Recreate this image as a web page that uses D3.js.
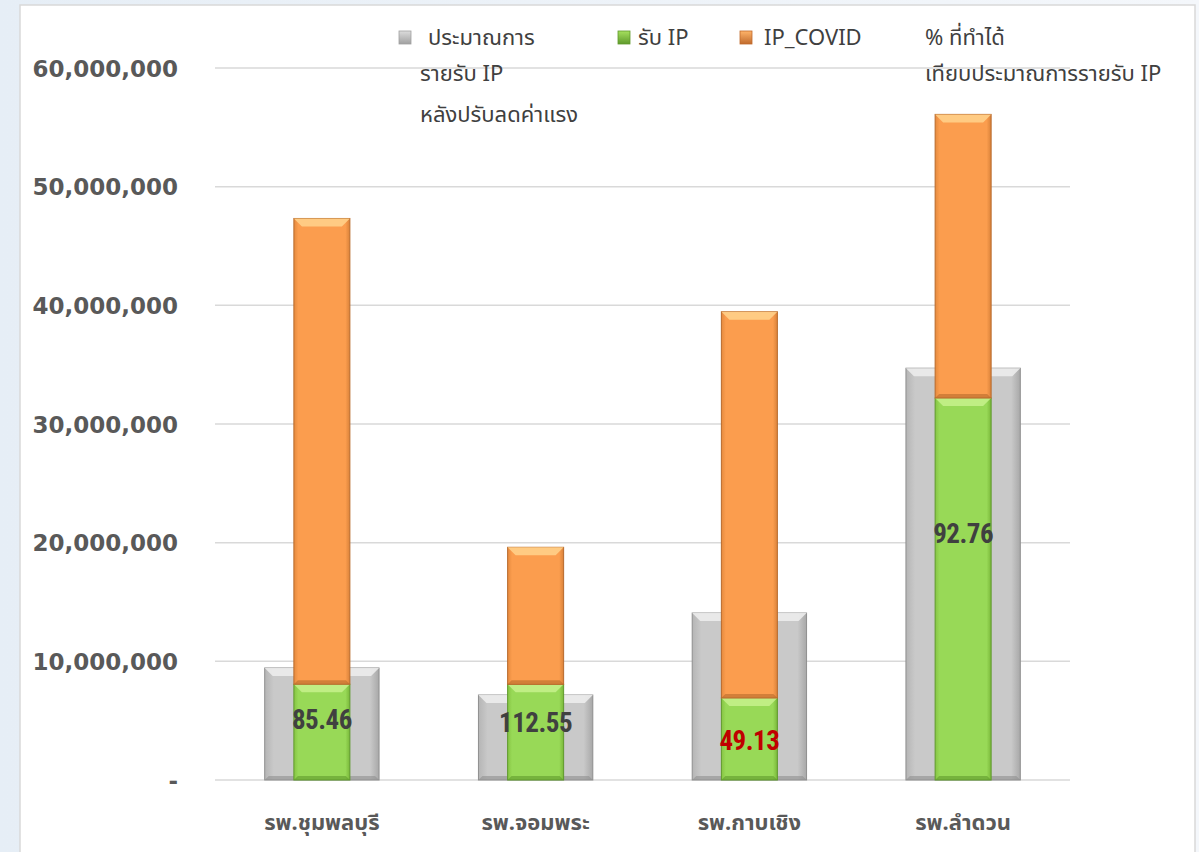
<!DOCTYPE html>
<html><head><meta charset="utf-8">
<script src="https://cdn.jsdelivr.net/npm/d3@7"></script>
<style>
html,body{margin:0;padding:0;background:#fff;}
svg{display:block;}
</style></head>
<body>
<svg id="c" width="1199" height="852"></svg>
<script>
const categories = ["รพ.ชุมพลบุรี","รพ.จอมพระ","รพ.กาบเชิง","รพ.ลำดวน"];
const estimateIP = [9440000, 7160000, 14070000, 34700000];   // ประมาณการรายรับ IP หลังปรับลดค่าแรง
const receivedIP = [8070000, 8060000, 6910000, 32190000];    // รับ IP
const covidIP    = [39250000, 11550000, 32550000, 23900000]; // IP_COVID
const pctAchieved = [85.46, 112.55, 49.13, 92.76];            // % ที่ทำได้
const pctLabelLevel = [5100000, 4800000, 3300000, 20800000];  // hidden % series level (label anchor)
const yTicks = [0,10000000,20000000,30000000,40000000,50000000,60000000];

const svg = d3.select("#c");
const defs = svg.append("defs");

const bg = defs.append("linearGradient").attr("id","bg").attr("x1",0).attr("x2",1).attr("y1",0).attr("y2",0);
bg.append("stop").attr("offset",0).attr("stop-color","#e6eef6");
bg.append("stop").attr("offset",1).attr("stop-color","#f4f7fb");
svg.append("rect").attr("width",1199).attr("height",852).attr("fill","url(#bg)");
svg.append("rect").attr("x",20).attr("y",5).attr("width",1175).attr("height",852)
  .attr("fill","#fff").attr("stroke","#d9d9d9").attr("stroke-width",1.5);

function hGrad(id, edgeL, mid, edgeR){
  const g = defs.append("linearGradient").attr("id",id).attr("x1",0).attr("x2",1).attr("y1",0).attr("y2",0);
  g.append("stop").attr("offset",0).attr("stop-color",edgeL);
  g.append("stop").attr("offset",0.08).attr("stop-color",mid);
  g.append("stop").attr("offset",0.92).attr("stop-color",mid);
  g.append("stop").attr("offset",1).attr("stop-color",edgeR);
}
hGrad("gGray","#b5b5b5","#c9c9c9","#a8a8a8");
hGrad("gGreen","#86c443","#98d957","#7ab83a");
hGrad("gOrange","#e58a3e","#fb9d4e","#d9823a");

const x = d3.scaleBand().domain(categories).range([215,1070]).padding(0);
const y = d3.scaleLinear().domain([0,60000000]).range([780,68]);

svg.append("g").selectAll("line").data(yTicks).join("line")
  .attr("x1",215).attr("x2",1070)
  .attr("y1",d=>y(d)).attr("y2",d=>y(d))
  .attr("stroke","#d9d9d9").attr("stroke-width",1.5);

const fmt = d3.format(",");
const yAxis = d3.axisLeft(y).tickValues(yTicks).tickSize(0).tickPadding(0)
  .tickFormat(d=> d===0 ? "-" : fmt(d));
const ya = svg.append("g").attr("transform","translate(178,0)").call(yAxis);
ya.select(".domain").remove();
ya.selectAll("text").attr("font-family","'DejaVu Sans', sans-serif")
  .attr("font-weight","bold").attr("font-size",23).attr("fill","#595959").attr("dy","0.35em");

const gw = x.bandwidth()*0.535, iw = x.bandwidth()*0.262;
const bevel = 8;

function bar(g, cx, w, y0, y1, fill, light, dark){
  const top = Math.min(y0,y1), h = Math.abs(y1-y0);
  const left = cx - w/2;
  g.append("rect").attr("x",left).attr("y",top).attr("width",w).attr("height",h)
    .attr("fill",fill).attr("stroke",dark).attr("stroke-width",1);
  const b = Math.min(bevel, h/2);
  g.append("path").attr("d",`M${left},${top}L${left+w},${top}L${left+w-b},${top+b}L${left+b},${top+b}Z`)
    .attr("fill",light).attr("opacity",0.9);
  g.append("path").attr("d",`M${left},${top+h}L${left+w},${top+h}L${left+w-b/2},${top+h-b/2}L${left+b/2},${top+h-b/2}Z`)
    .attr("fill",dark).attr("opacity",0.6);
}

const bars = svg.append("g");
categories.forEach((c,i)=>{
  const cx = x(c)+x.bandwidth()/2;
  bar(bars, cx, gw, y(0), y(estimateIP[i]), "url(#gGray)", "#ececec", "#8f8f8f");
});
categories.forEach((c,i)=>{
  const cx = x(c)+x.bandwidth()/2;
  bar(bars, cx, iw, y(0), y(receivedIP[i]), "url(#gGreen)", "#c4f08a", "#5f9a2c");
  bar(bars, cx, iw, y(receivedIP[i]), y(receivedIP[i]+covidIP[i]), "url(#gOrange)", "#ffd08a", "#b86a2c");
});

svg.append("g").selectAll("text").data(categories).join("text")
  .attr("x",d=>x(d)+x.bandwidth()/2)
  .attr("y",(d,i)=>y(pctLabelLevel[i]))
  .attr("dy","0.35em")
  .attr("text-anchor","middle")
  .attr("font-family","'Liberation Sans Narrow', 'Roboto Condensed', Roboto, sans-serif")
  .attr("font-weight","bold").attr("font-size",27).attr("letter-spacing","-0.5")
  .attr("fill",(d,i)=>pctAchieved[i] < 50 ? "#c00000" : "#404040")
  .text((d,i)=>pctAchieved[i].toFixed(2));

svg.append("g").selectAll("text").data(categories).join("text")
  .attr("x",d=>x(d)+x.bandwidth()/2).attr("y",822).attr("dy","0.35em")
  .attr("text-anchor","middle")
  .attr("font-family","'Noto Sans', 'Noto Sans Thai', sans-serif")
  .attr("font-weight","bold").attr("font-size",22).attr("fill","#595959")
  .text(d=>d);

const legend = [
  {lines:["ประมาณการ","รายรับ IP","หลังปรับลดค่าแรง"], x:405, color:["#dcdcdc","#a0a0a0"], tx:[428,420,420]},
  {lines:["รับ IP"], x:624, color:["#a6e05e","#5f9a2c"], tx:[638]},
  {lines:["IP_COVID"], x:746, color:["#ffb46a","#c06a2c"], tx:[764]},
  {lines:["% ที่ทำได้","เทียบประมาณการรายรับ IP"], x:null, color:null, tx:[925,925]}
];
const lg = svg.append("g");
const lineY = [37,73,114];
legend.forEach((L,k)=>{
  if(L.x!==null){
    const gid = "lg"+k;
    const g = defs.append("linearGradient").attr("id",gid).attr("x1",0).attr("x2",0).attr("y1",0).attr("y2",1);
    g.append("stop").attr("offset",0).attr("stop-color",L.color[0]);
    g.append("stop").attr("offset",1).attr("stop-color",L.color[1]);
    lg.append("rect").attr("x",L.x-6).attr("y",lineY[0]-6).attr("width",12).attr("height",13)
      .attr("fill",`url(#${gid})`).attr("stroke",L.color[1]).attr("stroke-width",0.8);
  }
  L.lines.forEach((t,j)=>{
    lg.append("text").attr("x",L.tx[j]).attr("y",lineY[j]).attr("dy","0.35em")
      .attr("font-family","'Noto Sans', 'Noto Sans Thai', sans-serif")
      .attr("font-size",22).attr("fill","#404040").text(t);
  });
});
</script>
</body></html>
